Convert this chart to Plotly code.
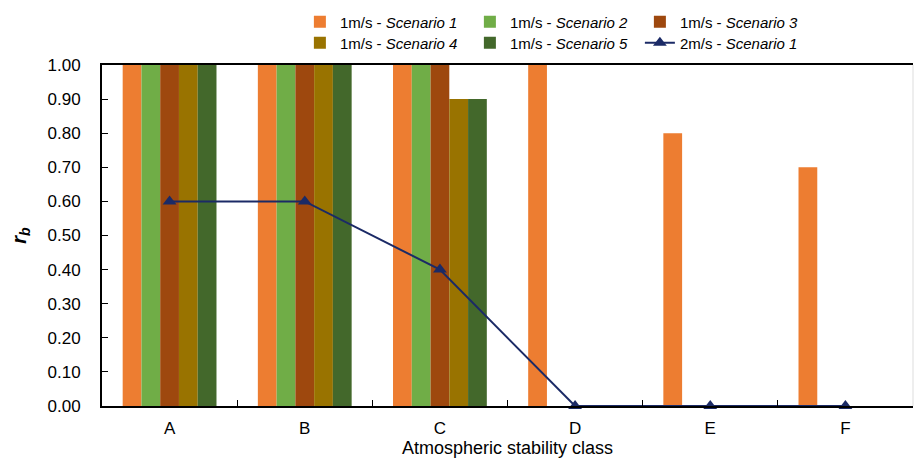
import plotly.graph_objects as go

categories = ["A", "B", "C", "D", "E", "F"]
s1 = [1.0, 1.0, 1.0, 1.0, 0.8, 0.7]
s2 = [1.0, 1.0, 1.0, 0, 0, 0]
s3 = [1.0, 1.0, 1.0, 0, 0, 0]
s4 = [1.0, 1.0, 0.9, 0, 0, 0]
s5 = [1.0, 1.0, 0.9, 0, 0, 0]
line2 = [0.6, 0.6, 0.4, 0.0, 0.0, 0.0]

bar_series = [
    ("1m/s - <i>Scenario 1</i>", s1, "#ED7D31", "legend"),
    ("1m/s - <i>Scenario 2</i>", s2, "#70AD47", "legend"),
    ("1m/s - <i>Scenario 3</i>", s3, "#9E480E", "legend"),
    ("1m/s - <i>Scenario 4</i>", s4, "#997300", "legend2"),
    ("1m/s - <i>Scenario 5</i>", s5, "#43682B", "legend2"),
]

fig = go.Figure()
for name, vals, col, lg in bar_series:
    fig.add_trace(go.Bar(x=categories, y=vals, name=name, marker_color=col,
                         marker_line_width=0, legend=lg))
fig.add_trace(go.Scatter(x=categories, y=line2, name="2m/s - <i>Scenario 1</i>",
                         mode="lines+markers", line=dict(color="#1B2A66", width=2),
                         marker=dict(symbol="triangle-up", size=12, color="#1B2A66"),
                         cliponaxis=False, legend="legend2"))

font = "Liberation Sans, Arial, sans-serif"
leg_common = dict(orientation="h", xanchor="left", yanchor="middle",
                  xref="paper", yref="container",
                  entrywidth=125, font=dict(size=15), itemwidth=30,
                  traceorder="normal", bgcolor="rgba(0,0,0,0)")
fig.update_layout(
    width=914, height=461,
    margin=dict(l=102, r=1, t=65, b=55),
    paper_bgcolor="white", plot_bgcolor="white",
    font=dict(family=font, size=17, color="black"),
    barmode="group", bargap=0.306, bargroupgap=0,
    legend=dict(x=0.244, y=1 - 22 / 461, **leg_common),
    legend2=dict(x=0.244, y=1 - 43 / 461, **leg_common),
    showlegend=True,
    xaxis=dict(type="category", showline=True, linecolor="black", linewidth=2,
               mirror=True, ticks="inside", tickson="boundaries", ticklen=6,
               tickcolor="black", showgrid=False, automargin=False,
               ticklabelstandoff=6, tickfont=dict(size=17),
               title=dict(text="Atmospheric stability class", standoff=4,
                          font=dict(size=18))),
    yaxis=dict(range=[0, 1], dtick=0.1, tickformat=".2f", showline=True,
               linecolor="black", linewidth=2, ticks="inside", ticklen=6,
               tickcolor="black", showgrid=False, zeroline=False, automargin=False,
               ticklabelstandoff=16, tickfont=dict(size=17),
               title=dict(text="<b><i>r<sub>b</sub></i></b>", standoff=16,
                          font=dict(size=20))),
)
fig.add_shape(type="line", xref="paper", yref="paper", x0=1, x1=1, y0=0, y1=1,
              line=dict(color="#dddddd", width=1))
fig.write_html("out.html", config={"displayModeBar": False},
               post_script="document.body.style.margin='0';document.body.style.overflow='hidden';")
